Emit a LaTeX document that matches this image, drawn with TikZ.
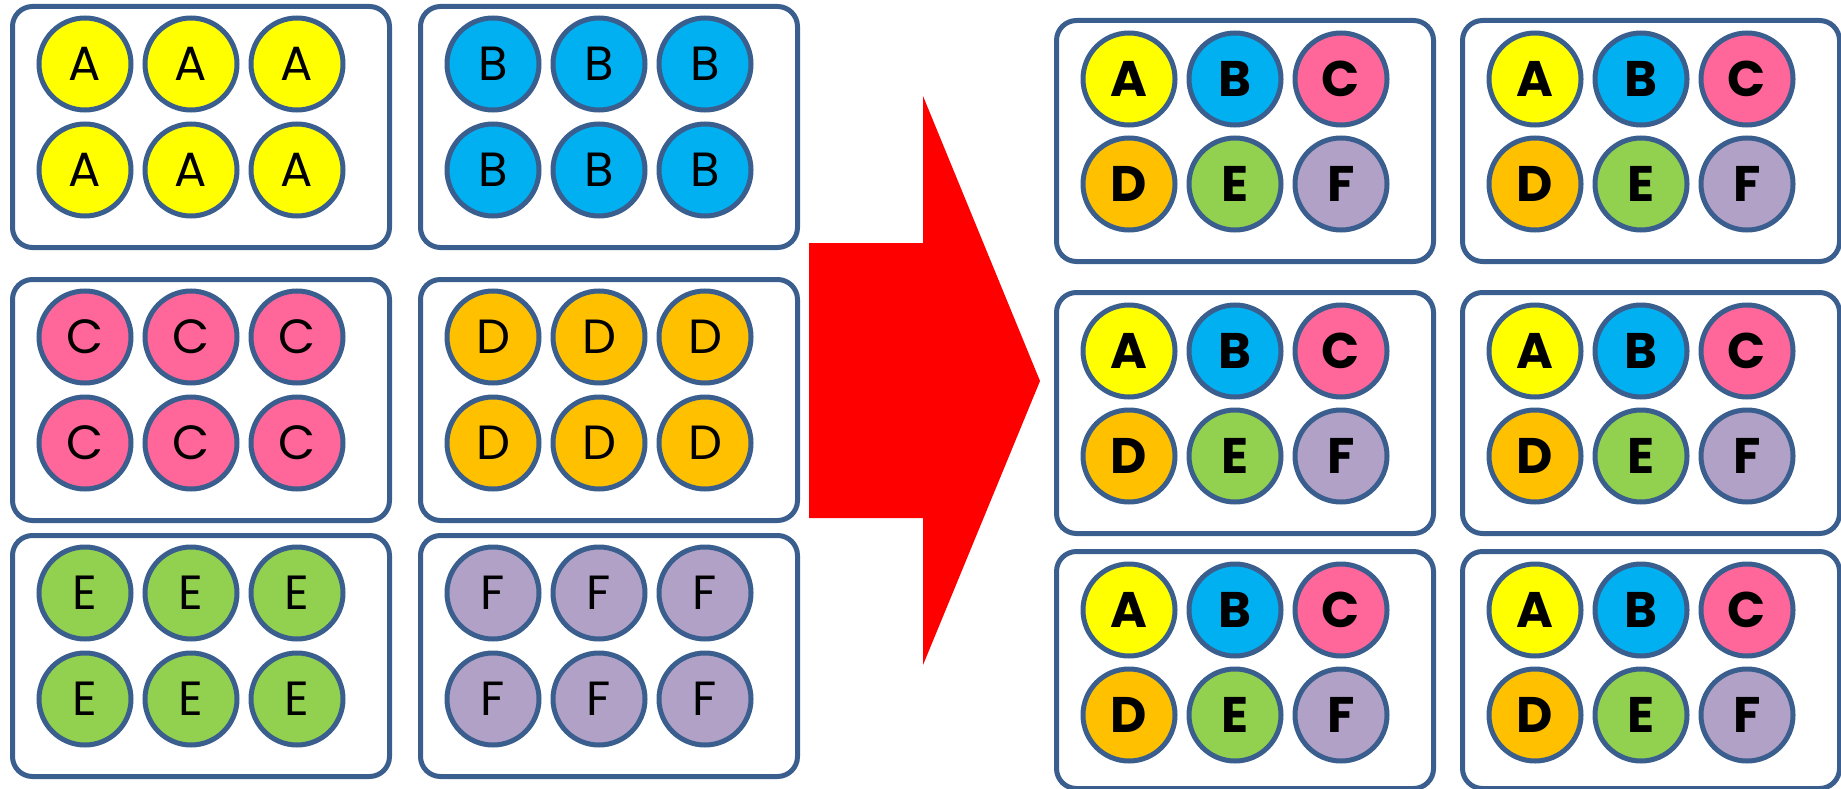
\documentclass[tikz,border=0pt]{standalone}
\usepackage{fontspec}
\setmainfont{Poppins}
\usetikzlibrary{positioning}
\definecolor{frame}{HTML}{3A5F8E}
\definecolor{cA}{HTML}{FFFF00}
\definecolor{cB}{HTML}{00B0F0}
\definecolor{cC}{HTML}{FF6699}
\definecolor{cD}{HTML}{FFC000}
\definecolor{cE}{HTML}{92D050}
\definecolor{cF}{HTML}{B2A1C7}

\begin{document}
\begin{tikzpicture}[x=1pt, y=-1pt, line width=5pt,
    tray/.style={draw=frame, rounded corners=20pt, minimum width=377pt,
        minimum height=241pt, inner sep=0pt, anchor=north west},
    ball/.style={circle, draw=frame, minimum size=92pt, inner sep=0pt,
        font=\fontsize{48}{50}\selectfont},
    mixball/.style={ball, font=\fontsize{50}{52}\selectfont\bfseries}]

    \useasboundingbox (0,0) rectangle (1841,789);

    % Sorted trays (one letter each)
    \foreach \x/\y/\l/\c in {10/4/A/cA, 418/4/B/cB, 10/277/C/cC,
        418/277/D/cD, 10/533/E/cE, 418/533/F/cF} {
        \node[tray] (src-\l) at (\x,\y) {};
        \foreach \i in {0,1,2}
            \foreach \j in {0,1}
                \node[ball, fill=\c] (src-\l-\i\j) at (\x+75+106*\i, \y+60+106*\j) {\l};
    }

    % Arrow
    \fill[red] (809,243) -- (923,243) -- (923,96) -- (1040,381)
        -- (923,665) -- (923,518) -- (809,518) -- cycle;

    % Mixed trays (one of each letter)
    \foreach \x/\col in {1054/1, 1460/2}
        \foreach \y/\h/\row in {18/241/1, 290/241/2, 549/237/3} {
            \node[tray, minimum height=\h pt] (mix-\col\row) at (\x,\y) {};
            \foreach \l/\c [count=\k from 0] in {A/cA, B/cB, C/cC, D/cD, E/cE, F/cF} {
                \pgfmathtruncatemacro{\i}{mod(\k,3)}
                \pgfmathtruncatemacro{\j}{\k/3}
                \node[mixball, fill=\c] (mix-\col\row-\l) at (\x+75+106*\i, \y+61+105*\j) {\l};
            }
        }

\end{tikzpicture}
\end{document}
